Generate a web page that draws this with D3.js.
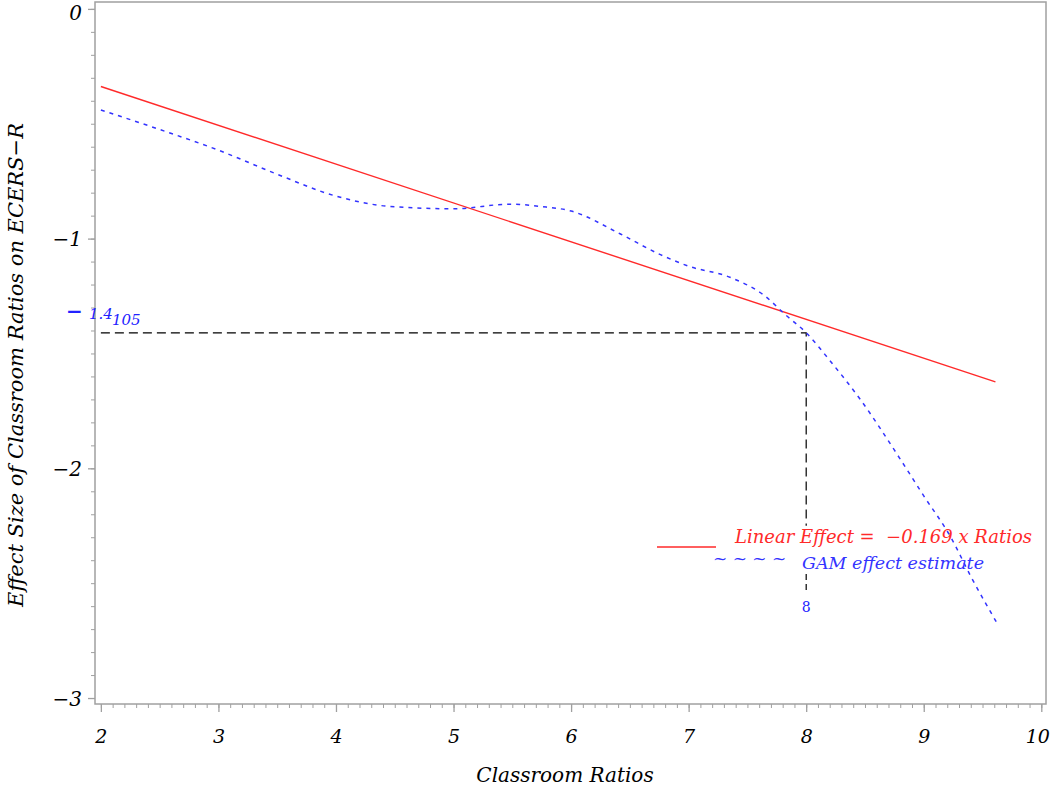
<!DOCTYPE html>
<html>
<head>
<meta charset="utf-8">
<script src="https://cdn.jsdelivr.net/npm/d3@7"></script>
<style>
  body { margin: 0; background: #fff; }
  text { font-family: "DejaVu Serif", serif; font-style: italic; }
</style>
</head>
<body>
<div id="chart"></div>
<script>
let width = 1050, height = 789;

// data
let xTicks = [2, 3, 4, 5, 6, 7, 8, 9, 10];
let yTicks = [0, -1, -2, -3];
let linearRatios = [2, 9.61];
let linearEffect = [-0.338, -1.624];
let gamRatios = [2, 2.5, 3, 3.5, 4, 4.46, 5, 5.48, 5.74, 6, 6.42, 6.76, 7, 7.36, 7.65, 7.82, 8, 8.2, 8.46, 8.8, 9, 9.23, 9.4, 9.63];
let gamEffect = [-0.44, -0.525, -0.615, -0.72, -0.815, -0.86, -0.87, -0.85, -0.86, -0.88, -0.98, -1.07, -1.12, -1.17, -1.25, -1.33, -1.41, -1.53, -1.70, -1.96, -2.12, -2.30, -2.47, -2.68];
let refX = 8, refY = -1.41;

let svg = d3.select('#chart')
    .append('svg')
    .attr('width', width)
    .attr('height', height);

let x = d3.scaleLinear().domain([1.95, 10.04]).range([95, 1046]);
let y = d3.scaleLinear().domain([0.03, -3.026]).range([2, 704]);

let axisColor = '#a0a0a0';

// frame
svg.append('rect')
    .attr('x', x.range()[0])
    .attr('y', y.range()[0])
    .attr('width', x.range()[1] - x.range()[0])
    .attr('height', y.range()[1] - y.range()[0])
    .attr('fill', 'none')
    .attr('stroke', axisColor)
    .attr('stroke-width', 1.5);

// minor ticks
let xMinor = d3.range(20, 101).map(d => d / 10);
let yMinor = d3.range(0, 31).map(d => -d / 10);

svg.append('g')
    .attr('transform', 'translate(0,704)')
    .call(d3.axisBottom(x).tickValues(xMinor).tickSize(4).tickFormat(''))
    .call(g => g.select('.domain').remove())
    .call(g => g.selectAll('line').attr('stroke', axisColor));

svg.append('g')
    .attr('transform', 'translate(95,0)')
    .call(d3.axisLeft(y).tickValues(yMinor).tickSize(4).tickFormat(''))
    .call(g => g.select('.domain').remove())
    .call(g => g.selectAll('line').attr('stroke', axisColor));

// major ticks
let xAxis = svg.append('g')
    .attr('transform', 'translate(0,704)')
    .call(d3.axisBottom(x).tickValues(xTicks).tickSize(8).tickPadding(18).tickFormat(d3.format('d')));
xAxis.select('.domain').remove();
xAxis.selectAll('line').attr('stroke', axisColor).attr('stroke-width', 1.3);
xAxis.selectAll('text')
    .style('font-family', '"DejaVu Serif", serif')
    .style('font-style', 'italic')
    .style('font-size', '19px')
    .attr('fill', '#000')
    .attr('dx', d => d === 10 ? -4 : 0);

let yAxis = svg.append('g')
    .attr('transform', 'translate(95,0)')
    .call(d3.axisLeft(y).tickValues(yTicks).tickSize(7).tickPadding(6).tickFormat(d3.format('d')));
yAxis.select('.domain').remove();
yAxis.selectAll('line').attr('stroke', axisColor).attr('stroke-width', 1.3);
yAxis.selectAll('text')
    .style('font-family', '"DejaVu Serif", serif')
    .style('font-style', 'italic')
    .style('font-size', '20px')
    .attr('fill', '#000')
    .attr('dy', d => d === 0 ? '0.55em' : '0.35em');

// axis titles
svg.append('text')
    .attr('x', 565)
    .attr('y', 782)
    .attr('text-anchor', 'middle')
    .style('font-size', '20px')
    .text('Classroom Ratios');

svg.append('text')
    .attr('transform', 'translate(23,' + 365 + ') rotate(-90)')
    .attr('text-anchor', 'middle')
    .style('font-size', '21px')
    .text('Effect Size of Classroom Ratios on ECERS\u2212R');

// reference lines at ratio 8
let line = d3.line().x(d => x(d[0])).y(d => y(d[1]));

svg.append('path')
    .attr('d', line([[2, refY], [refX, refY], [refX, -2.25]]))
    .attr('fill', 'none')
    .attr('stroke', '#000')
    .attr('stroke-width', 1.2)
    .attr('stroke-dasharray', '9,5');

svg.append('path')
    .attr('d', line([[refX, -2.46], [refX, -2.53]]))
    .attr('fill', 'none')
    .attr('stroke', '#000')
    .attr('stroke-width', 1.2)
    .attr('stroke-dasharray', '6,4');

// linear effect
svg.append('path')
    .attr('d', line(linearRatios.map((d, i) => [d, linearEffect[i]])))
    .attr('fill', 'none')
    .attr('stroke', '#ff2a2a')
    .attr('stroke-width', 1.4);

// GAM estimate
svg.append('path')
    .attr('d', d3.line().curve(d3.curveMonotoneX).x(d => x(d[0])).y(d => y(d[1]))(gamRatios.map((d, i) => [d, gamEffect[i]])))
    .attr('fill', 'none')
    .attr('stroke', '#3333ff')
    .attr('stroke-width', 1.5)
    .attr('stroke-dasharray', '4,5');

// value labels
svg.append('text')
    .attr('x', 66)
    .attr('y', 318)
    .attr('fill', '#2222ff')
    .style('font-size', '20px')
    .style('font-weight', 'bold')
    .text('\u2212');
svg.append('text')
    .attr('x', 89)
    .attr('y', 319)
    .attr('fill', '#2222ff')
    .style('font-size', '15px')
    .text('1.4');
svg.append('text')
    .attr('x', 112)
    .attr('y', 325)
    .attr('fill', '#2222ff')
    .style('font-size', '15px')
    .text('105');

svg.append('text')
    .attr('x', x(refX))
    .attr('y', 612)
    .attr('text-anchor', 'middle')
    .attr('fill', '#2222ff')
    .style('font-size', '14px')
    .style('font-style', 'normal')
    .text('8');

// legend
svg.append('line')
    .attr('x1', 657).attr('x2', 716)
    .attr('y1', 547).attr('y2', 547)
    .attr('stroke', '#ff2a2a')
    .attr('stroke-width', 1.4);
svg.append('text')
    .attr('x', 735)
    .attr('y', 543)
    .attr('fill', '#ff2a2a')
    .style('font-size', '18px')
    .attr('xml:space', 'preserve')
    .text('Linear Effect =  \u22120.169 x Ratios');

svg.append('text')
    .attr('x', 713)
    .attr('y', 564)
    .attr('fill', '#3333ff')
    .style('font-size', '17px')
    .style('font-style', 'normal')
    .attr('xml:space', 'preserve')
    .text('~ ~ ~ ~');
svg.append('text')
    .attr('x', 802)
    .attr('y', 569)
    .attr('fill', '#3333ff')
    .style('font-size', '17.5px')
    .text('GAM effect estimate');
</script>
</body>
</html>
